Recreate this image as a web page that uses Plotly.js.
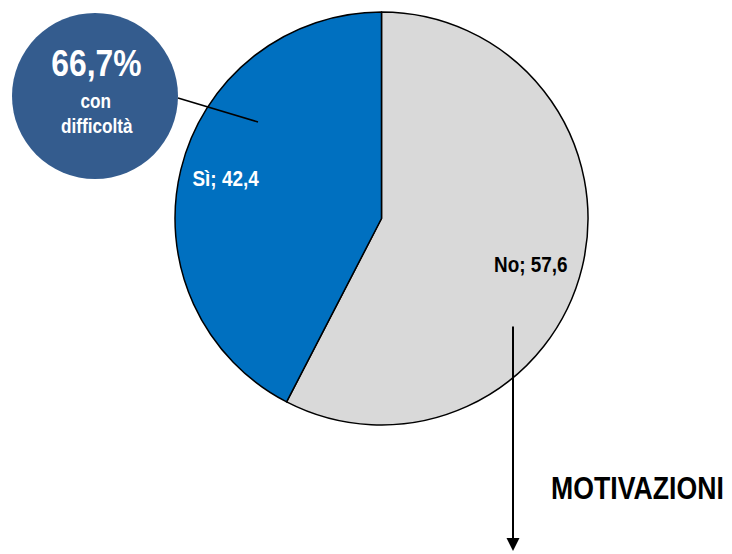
<!DOCTYPE html>
<html>
<head>
<meta charset="utf-8">
<script src="https://cdn.plot.ly/plotly-3.0.1.min.js"></script>
<style>html,body{margin:0;padding:0;background:#fff;}#chart{width:732px;height:554px;}</style>
</head>
<body>
<div id="chart"></div>
<script>
var labels = ['No', 'Sì'];
var values = [57.6, 42.4];
var colors = ['#D9D9D9', '#0070C0'];
var textColors = ['#000000', '#FFFFFF'];
var badgeValue = '66,7%';
var badgeText = ['con', 'difficoltà'];
var motivTitle = 'MOTIVAZIONI';

var W = 732, H = 554;
function px(x){ return x / W; }
function py(y){ return 1 - y / H; }
var FONT = 'Liberation Sans Narrow, Arial Narrow, Liberation Sans, Arial, sans-serif';

function fmt(v){ return v.toFixed(1).replace('.', ','); }

var labelPos = [[531, 264], [226, 178]];

var annotations = labels.map(function(l, i){
  return {
    xref: 'paper', yref: 'paper', x: px(labelPos[i][0]), y: py(labelPos[i][1]),
    text: '<b>' + l + '; ' + fmt(values[i]) + '</b>', showarrow: false,
    xanchor: 'center', yanchor: 'middle',
    font: {family: FONT, size: 22, color: textColors[i]}
  };
});

annotations.push({
  xref: 'paper', yref: 'paper', x: px(96), y: py(64), text: '<b>' + badgeValue + '</b>',
  showarrow: false, xanchor: 'center', yanchor: 'middle',
  font: {family: FONT, size: 37, color: '#FFFFFF'}
});
annotations.push({
  xref: 'paper', yref: 'paper', x: px(96), y: py(101), text: '<b>' + badgeText[0] + '</b>',
  showarrow: false, xanchor: 'center', yanchor: 'middle',
  font: {family: FONT, size: 20, color: '#FFFFFF'}
});
annotations.push({
  xref: 'paper', yref: 'paper', x: px(97), y: py(126), text: '<b>' + badgeText[1] + '</b>',
  showarrow: false, xanchor: 'center', yanchor: 'middle',
  font: {family: FONT, size: 20, color: '#FFFFFF'}
});
annotations.push({
  xref: 'paper', yref: 'paper', x: px(637), y: py(488), text: '<b>' + motivTitle + '</b>',
  showarrow: false, xanchor: 'center', yanchor: 'middle',
  font: {family: FONT, size: 31, color: '#000000'}
});
// arrow
annotations.push({
  xref: 'paper', yref: 'paper', x: px(513), y: py(551), ax: 0, ay: -226,
  axref: 'pixel', ayref: 'pixel', text: '', showarrow: true,
  arrowhead: 2, arrowsize: 1.3, arrowwidth: 2, arrowcolor: '#000000'
});

var data = [{
  type: 'pie',
  labels: labels,
  values: values,
  sort: false,
  direction: 'clockwise',
  rotation: 0,
  textinfo: 'none',
  hoverinfo: 'none',
  marker: {colors: colors, line: {color: '#000000', width: 1.5}},
  domain: {x: [px(175), px(588)], y: [py(425), py(12)]}
}];

var layout = {
  width: W, height: H,
  margin: {l: 0, r: 0, t: 0, b: 0},
  paper_bgcolor: '#FFFFFF',
  showlegend: false,
  shapes: [
    {type: 'circle', xref: 'paper', yref: 'paper', x0: px(12), x1: px(178), y0: py(179), y1: py(13),
     fillcolor: '#345C8E', line: {width: 0}, layer: 'above'},
    {type: 'line', xref: 'paper', yref: 'paper', x0: px(178), y0: py(98), x1: px(258), y1: py(122),
     line: {color: '#000000', width: 1.5}, layer: 'above'}
  ],
  annotations: annotations
};

Plotly.newPlot('chart', data, layout, {displayModeBar: false, staticPlot: true}).then(function(gd){
  // emulate a narrow typeface: horizontally condense annotation texts around their centers
  var texts = gd.querySelectorAll('.annotation-text');
  texts.forEach(function(t){
    var bb = t.getBBox();
    var cx = bb.x + bb.width / 2;
    var prev = t.getAttribute('transform') || '';
    t.setAttribute('transform', prev + ' translate(' + cx + ',0) scale(0.86,1) translate(' + (-cx) + ',0)');
  });
});
</script>
</body>
</html>
